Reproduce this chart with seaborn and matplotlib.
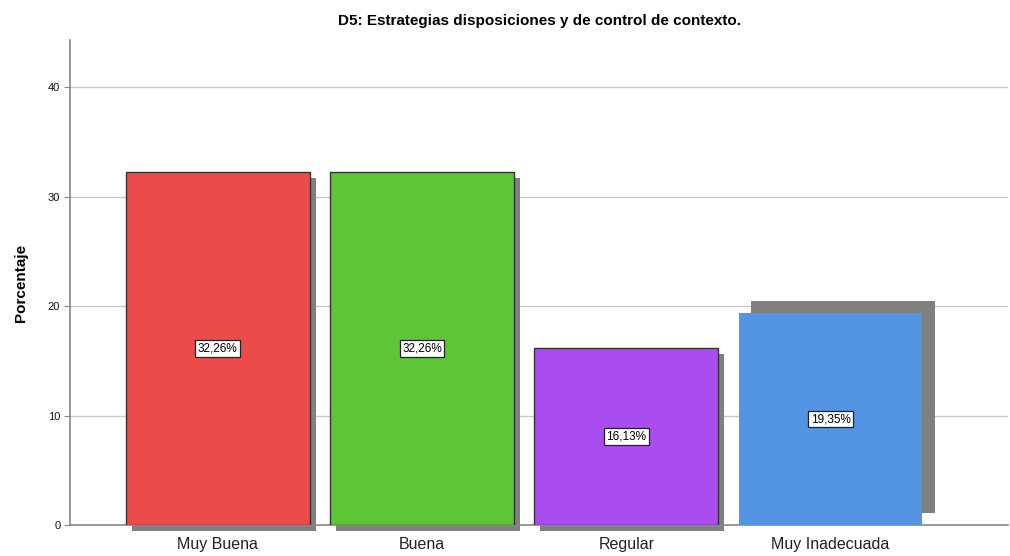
import matplotlib
matplotlib.use("Agg")
import matplotlib.pyplot as plt
import seaborn as sns
import pandas as pd
from matplotlib.patches import Rectangle

categories = ["Muy Buena", "Buena", "Regular", "Muy Inadecuada"]
values = [32.26, 32.26, 16.13, 19.35]
labels = ["32,26%", "32,26%", "16,13%", "19,35%"]
colors = ["#EC4B4C", "#5EC538", "#A94CF0", "#5395E3"]
yticks = [0, 10, 20, 30, 40]
title = "D5: Estrategias disposiciones y de control de contexto."
ylabel = "Porcentaje"

sns.set_theme(style="white")
plt.rcParams["font.family"] = ["Liberation Sans", "DejaVu Sans"]

df = pd.DataFrame({"cat": categories, "val": values})

fig = plt.figure(figsize=(10.1, 5.56), dpi=100)
ax = fig.add_axes([0.0693, 0.0558, 0.929, 0.872])

sns.barplot(data=df, x="cat", y="val", hue="cat", palette=colors, legend=False,
            width=0.9, ax=ax, zorder=3, saturation=1)

edgecols = ["#333333", "#333333", "#333333", "none"]
# shadow offsets (data units): x in category units, y in percent
shadow_dx = [0.03, 0.03, 0.03, 0.06]
shadow_dy = [-0.55, -0.55, -0.55, 1.1]
for i, p in enumerate(ax.patches[:len(values)]):
    p.set_edgecolor(edgecols[i])
    p.set_linewidth(1.0)
    x0, w, h = p.get_x(), p.get_width(), p.get_height()
    sh = Rectangle((x0 + shadow_dx[i], shadow_dy[i]), w, h, facecolor="#808080",
                   edgecolor="none", zorder=2, clip_on=False)
    ax.add_patch(sh)
    ax.text(x0 + w / 2, h / 2, labels[i], ha="center", va="center", fontsize=8.5,
            color="black", zorder=5,
            bbox=dict(boxstyle="square,pad=0.2", facecolor="white",
                      edgecolor="#222222", linewidth=0.9))

ax.set_xlim(-0.723, 3.87)
ax.set_ylim(0, 44.3)
ax.set_yticks(yticks)
ax.set_yticklabels([str(t) for t in yticks], fontsize=8)
ax.yaxis.grid(True, color="#C8C8C8", linewidth=1.0, zorder=0)
ax.set_axisbelow(True)
ax.tick_params(axis="y", length=4, width=0.8, color="#888888", pad=3, left=True)
ax.tick_params(axis="x", length=0, labelsize=11.5, pad=9)
for lab in ax.get_xticklabels():
    lab.set_color("#222222")
for lab in ax.get_yticklabels():
    lab.set_color("#111111")
ax.set_xlabel("")
ax.set_ylabel(ylabel, fontsize=11, fontweight="bold", labelpad=14, color="black")
ax.set_title(title, fontsize=11, fontweight="bold", pad=11, color="black")
for s in ["top", "right"]:
    ax.spines[s].set_visible(False)
for s in ["left", "bottom"]:
    ax.spines[s].set_color("#888888")
    ax.spines[s].set_linewidth(1.2)

fig.savefig("out.png", dpi=100)
